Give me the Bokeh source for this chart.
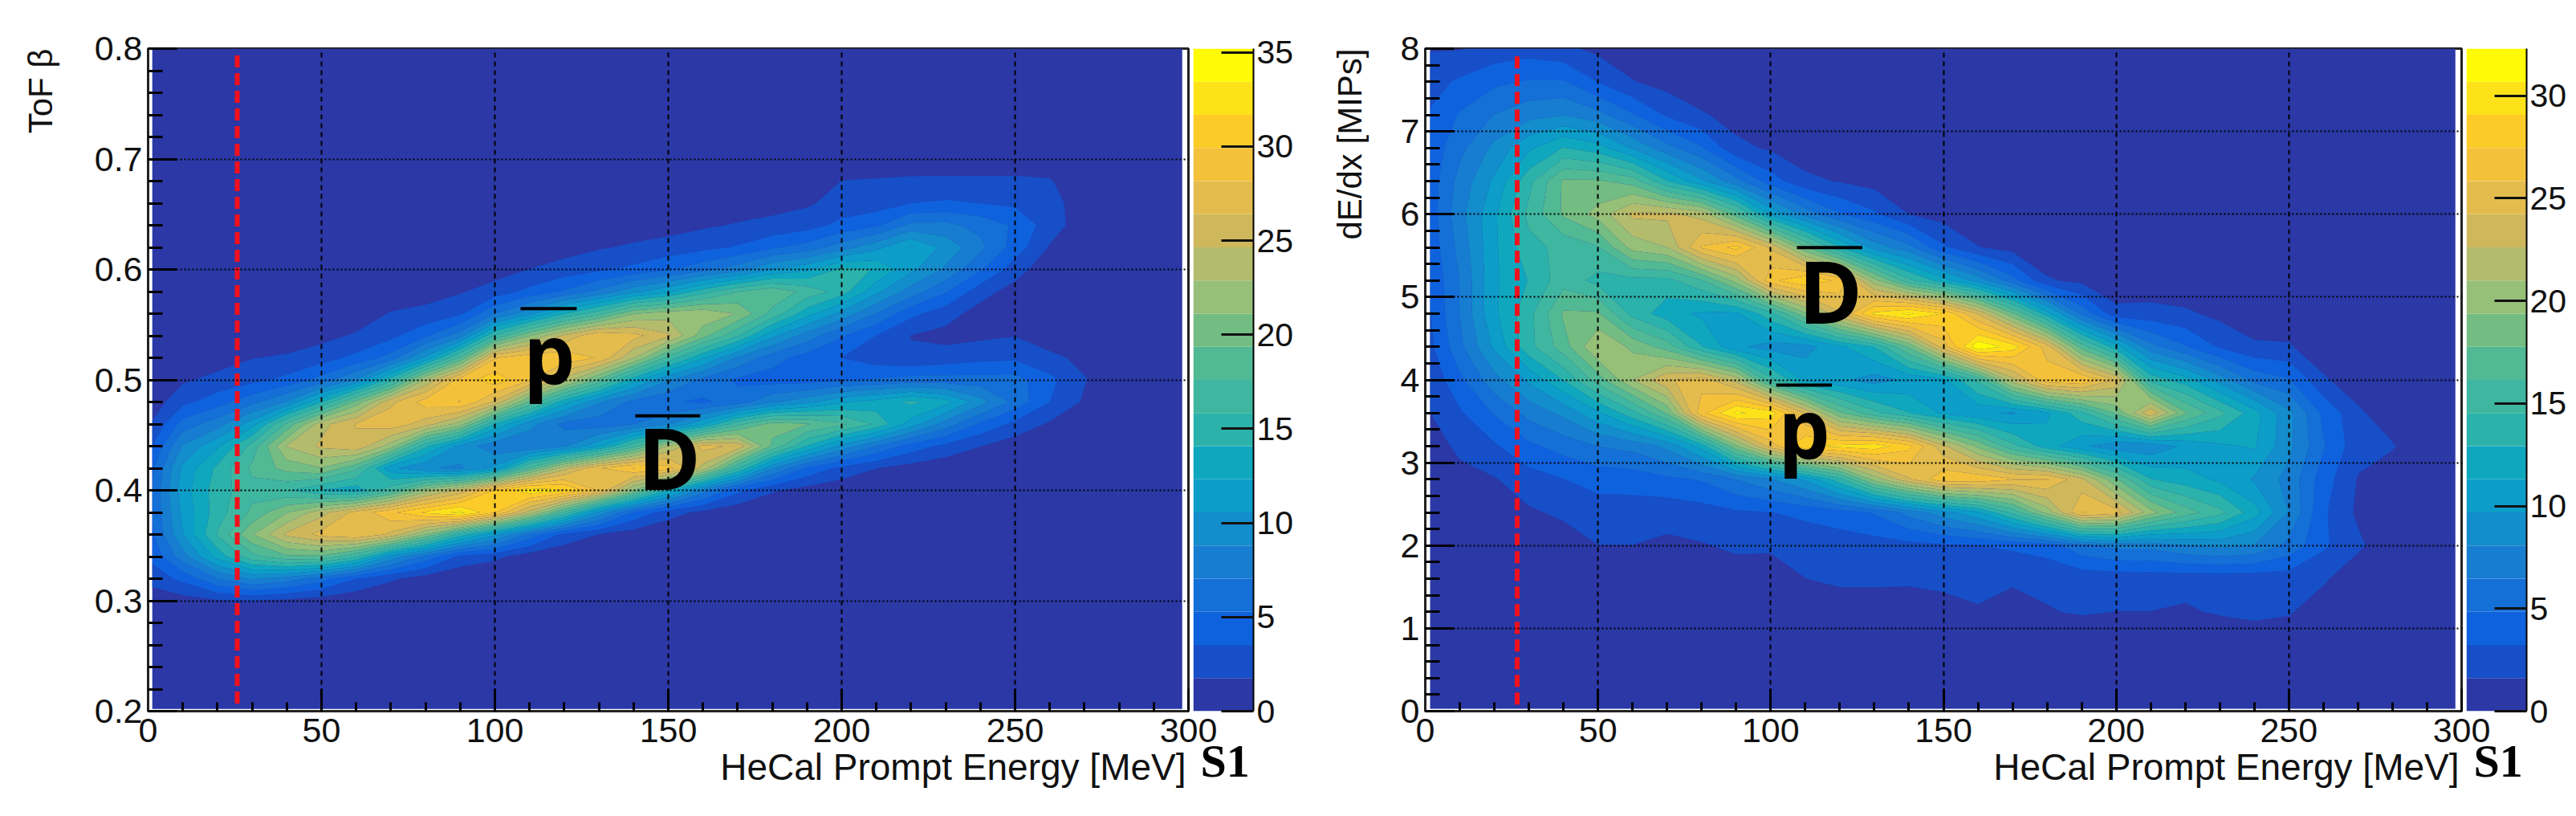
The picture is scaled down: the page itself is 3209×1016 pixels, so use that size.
from bokeh.plotting import figure
from bokeh.layouts import row
from bokeh.models import FixedTicker, Title
from bokeh.core.properties import value
from bokeh.embed import file_html
from bokeh.resources import INLINE
import numpy as np

# ---------- shared ----------
palette = ["#2B38A6", "#164FC7", "#0F62DE", "#146FD7", "#177DD0", "#138DCC", "#0C9DC9",
           "#0FA7BE", "#2BB2AA", "#3FB7A0", "#51B994", "#73BC82", "#96BF78", "#B2BC6C",
           "#CFB75C", "#E3BC4D", "#F4C13A", "#FDCB28", "#FDE21A", "#FFFA05"]
x_major = [0, 50, 100, 150, 200, 250, 300]
x_minor = list(range(0, 301, 10))
x_label = "HeCal Prompt Energy [MeV]"
corner_tag = "S1"

# ---------- left panel: ToF beta ----------
left_x = [1.2, 10, 20, 30, 40, 50, 60, 70, 80, 90, 100, 110, 120, 130, 140, 150, 160, 170,
          180, 190, 200, 210, 220, 230, 240, 250, 260, 270, 280]
left_y = [.30, .32, .34, .36, .38, .40, .42, .44, .46, .48, .50, .52, .54, .56, .58, .60,
          .62, .64, .66, .68, .70]
left_columns = [
    [.5, 2.5, 4, 5, 5.5, 5.5, 5, 3.5, 1.9, .8, .3, 0, 0, 0, 0, 0, 0, 0, 0, 0, 0],
    [1, 4, 8, 10.5, 11, 11.5, 11, 9, 6, 3, 1.5, .5, 0, 0, 0, 0, 0, 0, 0, 0, 0],
    [1.5, 7, 13, 16, 15, 15, 14.5, 12, 8, 4.5, 2.3, .9, .2, 0, 0, 0, 0, 0, 0, 0, 0],
    [1.8, 9, 17, 21, 18, 17, 18, 16.5, 11.5, 6.5, 3, 1.7, .5, 0, 0, 0, 0, 0, 0, 0, 0],
    [1.3, 8, 19, 25, 21, 16, 20, 23, 18, 9, 4, 2, .7, 0, 0, 0, 0, 0, 0, 0, 0],
    [.9, 6, 19, 27, 24, 14, 21, 25, 24, 14, 6, 2.7, 1.2, .3, 0, 0, 0, 0, 0, 0, 0],
    [.4, 3.5, 16, 28, 27, 13, 18, 26, 26.5, 20, 9, 4, 2, .6, 0, 0, 0, 0, 0, 0, 0],
    [.2, 2, 10, 26, 29.5, 17, 11, 22, 27.5, 26, 15, 6, 3, 1.9, .5, 0, 0, 0, 0, 0, 0],
    [0, .9, 6.5, 21, 32, 22, 9, 14.5, 25.5, 29, 23, 11, 5, 2.2, 1.1, .2, 0, 0, 0, 0, 0],
    [0, .3, 3, 15, 34, 25, 8.5, 10, 22, 30, 29, 18, 8, 3.2, 1.6, .5, 0, 0, 0, 0, 0],
    [0, 0, 2.2, 11, 30, 30, 11, 7.5, 14, 26, 31, 28, 16, 7, 2.5, 1, 0, 0, 0, 0, 0],
    [0, 0, .8, 6.5, 24, 33, 18, 7, 9.5, 19, 28.5, 29.5, 21, 10, 4, 1.8, .5, 0, 0, 0, 0],
    [0, 0, .3, 3, 17, 32, 24, 8.5, 6.5, 13, 24, 29.5, 25, 14, 5.5, 2.5, 1, 0, 0, 0, 0],
    [0, 0, 0, 1.7, 10, 28, 28, 12, 6, 9, 19, 28, 28, 17, 7.5, 3.2, 1.6, .4, 0, 0, 0],
    [0, 0, 0, .8, 5, 21, 30, 17, 7, 6.5, 13, 23, 27, 21, 10, 4, 2, .9, 0, 0, 0],
    [0, 0, 0, .3, 2.5, 14, 29, 23, 8.5, 5.5, 9, 17, 25, 22, 12, 5, 2.5, 1, 0, 0, 0],
    [0, 0, 0, 0, 1.3, 8, 24, 27, 12, 5, 6.5, 12.5, 20, 22.5, 15, 6.5, 3, 1.5, .4, 0, 0],
    [0, 0, 0, 0, .5, 4, 16, 26, 17, 6, 5, 8.5, 16, 21, 17.5, 8, 3.7, 1.9, .9, 0, 0],
    [0, 0, 0, 0, 0, 2, 9, 19, 20, 8.5, 4.5, 6, 11, 17, 19, 10.5, 5, 2.2, 1.2, 0, 0],
    [0, 0, 0, 0, 0, 1, 5, 14, 19.5, 10, 4.5, 4.5, 8, 13, 17, 12, 6, 2.8, 1.5, .3, 0],
    [0, 0, 0, 0, 0, .5, 3, 10, 18, 12, 5, 3.5, 5.5, 10, 15, 14.5, 8, 4, 2.5, 1.8, .2],
    [0, 0, 0, 0, 0, 0, 1.8, 7, 15.5, 13, 5.5, 2.5, 3.5, 7, 11, 14, 10, 5, 2.6, 1.9, .8],
    [0, 0, 0, 0, 0, 0, 1, 4.5, 11.5, 14.5, 6, 2, 1.7, 4, 8, 11, 12.5, 7.5, 3.5, 2, .9],
    [0, 0, 0, 0, 0, 0, .5, 3, 8, 13, 6, 2.5, 1.2, 2.5, 5.5, 8.5, 10, 7.5, 3.8, 2, 1],
    [0, 0, 0, 0, 0, 0, 0, 1.8, 5, 9.5, 6, 3, 1.4, 1, 2.5, 5.5, 7.5, 6.5, 3.5, 2, 1],
    [0, 0, 0, 0, 0, 0, 0, .8, 3, 6.5, 6, 3.2, 1.7, .6, 1, 2.6, 4.5, 5, 3.2, 2, 1],
    [0, 0, 0, 0, 0, 0, 0, 0, 1.5, 3.5, 4, 2.3, .5, 0, 0, .5, 1.6, 2.6, 2.3, 1.9, .8],
    [0, 0, 0, 0, 0, 0, 0, 0, 0, 1.5, 1.9, 1.2, 0, 0, 0, 0, 0, .8, 1, .5, 0],
    [0, 0, 0, 0, 0, 0, 0, 0, 0, 0, 0, 0, 0, 0, 0, 0, 0, 0, 0, 0, 0],
]
left_y_major = [.2, .3, .4, .5, .6, .7, .8]
left_y_minor = [.22, .24, .26, .28, .32, .34, .36, .38, .42, .44, .46, .48, .52, .54, .56, .58,
                .62, .64, .66, .68, .72, .74, .76, .78]
left_cbar_max = 35.2
left_cbar_ticks = [0, 5, 10, 15, 20, 25, 30, 35]

# ---------- right panel: dE/dx ----------
right_x = [1.4, 10, 20, 30, 40, 50, 60, 70, 80, 90, 100, 110, 120, 130, 140, 150, 160, 170,
           180, 190, 200, 210, 220, 230, 240, 250, 260, 270, 280, 290]
right_y = [.8, 1.2, 1.6, 2.0, 2.4, 2.8, 3.2, 3.6, 4.0, 4.4, 4.8, 5.2, 5.6, 6.0, 6.4, 6.8, 7.2,
           7.6, 8.0]
right_columns = [
    [0, 0, 0, 0, .3, .6, 1, 1.6, 2, 2.8, 3.2, 3.5, 3.8, 4, 4, 3.8, 3.4, 2.6, 1.5],
    [0, 0, 0, .1, .5, 1.2, 1.9, 3, 4.5, 6, 6.5, 6.5, 7, 7.5, 7, 6, 5, 3.5, 1.5],
    [0, 0, 0, .3, .8, 1.5, 3, 5, 7.5, 10, 11, 11, 11, 11, 10, 8.5, 6.5, 4.5, 2.2],
    [0, 0, .1, .5, 1.4, 2.5, 4.5, 7, 10, 14, 14, 13, 14, 15, 14, 11, 7.5, 5, 2.5],
    [0, .1, .3, .8, 1.9, 3.2, 5.5, 8.5, 13, 17, 18, 15.5, 15, 18, 18, 13, 8, 5, 2],
    [0, .2, .5, 1.6, 2.5, 3.8, 6.5, 11, 17, 21, 18, 14, 16, 20, 18, 12, 7, 3.2, 1.2],
    [0, .1, .4, 1.6, 2.5, 3.9, 7, 14, 21, 19, 14, 14, 20, 23, 17, 9.5, 5, 1.7, .5],
    [0, 0, .3, 1.3, 2.2, 4.5, 8.5, 18, 24, 17, 12, 14, 21, 23, 13, 7, 3, 1, 0],
    [0, 0, .5, 1.5, 2.5, 5, 12, 27, 25, 13, 11, 16, 26, 22, 10, 5, 1.8, .4, 0],
    [0, 0, .8, 1.9, 3, 6.5, 19, 31, 22, 10, 11, 20, 28, 17, 7, 2, 1, 0, 0],
    [0, 0, 1, 1.8, 3.2, 8, 25, 30, 15, 9, 14, 27, 24, 11, 4, 1.4, .2, 0, 0],
    [0, 0, 1.6, 2.2, 3.6, 10, 29, 24, 11, 9, 19, 29, 18, 7.5, 2, .7, 0, 0, 0],
    [0, .5, 2, 2.3, 4.2, 14, 29.5, 18, 10, 11, 24, 27, 13, 5, 1.5, .3, 0, 0, 0],
    [0, .8, 1.9, 2.5, 5, 20, 30, 15, 9, 13, 29.5, 20, 9, 3.5, 1, 0, 0, 0, 0],
    [0, 1, 1.8, 2.7, 7, 24, 28, 13, 10, 18, 31, 15, 7, 1.6, .2, 0, 0, 0, 0],
    [0, 1.2, 1.9, 3, 9, 27, 23, 11, 11, 25, 29, 12, 3.5, .9, 0, 0, 0, 0, 0],
    [0, 1.5, 2, 3.2, 11, 27, 19, 10, 15, 32, 24, 9, 1.7, .2, 0, 0, 0, 0, 0],
    [0, .8, 1.9, 3.5, 15, 26, 15, 9.5, 22, 30, 18, 5.5, 1, 0, 0, 0, 0, 0, 0],
    [0, 1.5, 2, 4, 20, 26, 12, 11, 27, 25, 12, 1.8, .4, 0, 0, 0, 0, 0, 0],
    [0, 1.8, 2.2, 6, 26, 23, 10, 14, 27.5, 17, 6, 1.2, 0, 0, 0, 0, 0, 0, 0],
    [0, 1.6, 2.2, 7, 25, 18, 8.5, 18, 24, 12, 2.2, .3, 0, 0, 0, 0, 0, 0, 0],
    [0, 1.6, 2.3, 7, 20, 13, 8.5, 24, 14, 7, 2.2, .5, 0, 0, 0, 0, 0, 0, 0],
    [0, 1.4, 2.2, 8, 17, 12, 10, 18, 12, 5, 1.9, .3, 0, 0, 0, 0, 0, 0, 0],
    [.1, 1.8, 2.2, 8.5, 15, 11, 11, 15, 9, 3, 1.2, 0, 0, 0, 0, 0, 0, 0, 0],
    [.6, 2, 2.2, 8, 12, 9.5, 11.5, 12, 6, 1.9, .5, 0, 0, 0, 0, 0, 0, 0, 0],
    [.3, 1.8, 2.3, 6, 8, 7.5, 8.5, 8.5, 5, 1.8, .5, 0, 0, 0, 0, 0, 0, 0, 0],
    [0, .5, 1.9, 3.5, 3.5, 4, 5, 4.5, 1.9, .4, 0, 0, 0, 0, 0, 0, 0, 0, 0],
    [0, 0, .3, 2, 1.3, 1.5, 2.2, 2, .4, 0, 0, 0, 0, 0, 0, 0, 0, 0, 0],
    [0, 0, 0, .2, 0, .3, 1.8, .3, 0, 0, 0, 0, 0, 0, 0, 0, 0, 0, 0],
    [0, 0, 0, 0, 0, 0, 0, 0, 0, 0, 0, 0, 0, 0, 0, 0, 0, 0, 0],
]
right_y_major = [0, 1, 2, 3, 4, 5, 6, 7, 8]
right_y_minor = [.2, .4, .6, .8, 1.2, 1.4, 1.6, 1.8, 2.2, 2.4, 2.6, 2.8, 3.2, 3.4, 3.6, 3.8,
                 4.2, 4.4, 4.6, 4.8, 5.2, 5.4, 5.6, 5.8, 6.2, 6.4, 6.6, 6.8, 7.2, 7.4, 7.6, 7.8]
right_cbar_max = 32.3
right_cbar_ticks = [0, 5, 10, 15, 20, 25, 30]

OVERHANG = 60
UNDERHANG = 40


def panel(width, border_left, border_right, border_top, frame_h, y_start, y_end, xs, ys, columns,
          y_major, y_minor, y_label, y_standoff, cut_x, cut_y, base, cbar_max, anno):
    p = figure(width=width + OVERHANG + UNDERHANG, height=border_top + frame_h + 123,
               x_range=(0, 300), y_range=(y_start, y_end), toolbar_location=None,
               output_backend="svg",
               min_border_left=border_left + UNDERHANG, min_border_right=border_right + OVERHANG,
               min_border_top=border_top, min_border_bottom=123,
               background_fill_color="white", border_fill_color=None,
               outline_line_color="#222222", outline_line_width=3,
               margin=(0, -OVERHANG, 0, -UNDERHANG))
    p.quad(left=base[0], right=base[1], bottom=base[2], top=y_end, fill_color=palette[0],
           line_color=None)
    step = cbar_max / len(palette)
    levels = [step * i for i in range(1, len(palette) + 1)]
    p.contour(xs, ys, np.array(columns).T, levels=levels, fill_color=palette[1:], line_color=None)

    ax = p.xaxis[0]
    ax.ticker = FixedTicker(ticks=x_major, minor_ticks=x_minor)
    ax.major_label_text_font = "Liberation Sans"
    ax.major_label_text_font_size = "43px"
    ax.major_label_text_color = "#111111"
    ax.major_label_standoff = 9
    ax.major_tick_in = 28
    ax.major_tick_out = 0
    ax.minor_tick_in = 11
    ax.minor_tick_out = 0
    ay = p.yaxis[0]
    ay.ticker = FixedTicker(ticks=y_major, minor_ticks=y_minor)
    ay.major_label_text_font = "Liberation Sans"
    ay.major_label_text_font_size = "43px"
    ay.major_label_text_color = "#111111"
    ay.major_label_standoff = 7
    ay.major_label_orientation = "horizontal"
    ay.major_tick_in = 36
    ay.major_tick_out = 0
    ay.minor_tick_in = 18
    ay.minor_tick_out = 0
    for a in (ax, ay):
        a.axis_line_color = "#222222"
        a.axis_line_width = 3
        a.major_tick_line_color = "black"
        a.major_tick_line_width = 3
        a.minor_tick_line_color = "black"
        a.minor_tick_line_width = 3
    p.add_layout(Title(text=x_label, align="right", offset=3, standoff=0,
                       text_font="Liberation Sans", text_font_size="46px",
                       text_font_style="normal", text_color="#111111"), "below")
    p.add_layout(Title(text=y_label, align="right", offset=0, standoff=y_standoff,
                       text_font="Liberation Sans", text_font_size="42px",
                       text_font_style="normal", text_color="#111111"), "left")

    g = p.xgrid[0]
    g.ticker = FixedTicker(ticks=x_major[1:-1])
    g.grid_line_color = "black"
    g.grid_line_dash = "6 5"
    g.grid_line_width = 2
    g.level = "overlay"
    g = p.ygrid[0]
    g.ticker = FixedTicker(ticks=y_major[1:-1])
    g.grid_line_color = "black"
    g.grid_line_dash = "2 3"
    g.grid_line_width = 2
    g.level = "overlay"

    p.segment(x0=[cut_x], y0=[cut_y[0]], x1=[cut_x], y1=[cut_y[1]], line_color="#F2101C",
              line_width=6, line_dash="15 7", level="overlay")
    for letter, lx, ly, bar0, bar1, bar_y, size in anno:
        p.text(x=[lx], y=[ly], text=[letter], text_font=value("Open Sans"),
               text_font_style="bold", text_font_size=size, text_color="black",
               text_align="center", text_baseline="alphabetic", level="overlay")
        p.segment(x0=[bar0], y0=[bar_y], x1=[bar1], y1=[bar_y], line_color="black",
                  line_width=4, level="overlay")
    return p


def cbar(width, border_top, frame_h, cbar_max, ticks):
    step = cbar_max / len(palette)
    c = figure(width=width, height=border_top + frame_h + 123, x_range=(0, 1),
               y_range=(0, cbar_max), toolbar_location=None, output_backend="svg",
               x_axis_location=None, y_axis_location="right",
               min_border_left=0, min_border_right=width - 75,
               min_border_top=border_top, min_border_bottom=123,
               background_fill_color=None, border_fill_color=None, outline_line_color=None)
    c.grid.visible = False
    c.quad(left=0, right=1, bottom=[step * i for i in range(len(palette))],
           top=[step * (i + 1) for i in range(len(palette))], fill_color=palette, line_color=None)
    a = c.yaxis[0]
    a.ticker = FixedTicker(ticks=ticks)
    a.major_tick_in = 40
    a.major_tick_out = 0
    a.minor_tick_line_color = None
    a.axis_line_color = "black"
    a.axis_line_width = 2
    a.major_tick_line_color = "#111111"
    a.major_tick_line_width = 3
    a.major_label_text_font = "Liberation Sans"
    a.major_label_text_font_size = "41px"
    a.major_label_text_color = "#111111"
    a.major_label_standoff = 4
    c.add_layout(Title(text=corner_tag, align="left", offset=9, standoff=54,
                       text_font="Liberation Serif", text_font_size="58px",
                       text_font_style="bold", text_color="black"), "below")
    return c


left_anno = [("p", 115.7, .5254, 107.4, 123.6, .5645, "102px"),
             ("D", 150.3, .4299, 140.5, 159.2, .4674, "106px")]
right_anno = [("D", 117.3, 5.083, 107.6, 126.5, 5.597, "108px"),
              ("p", 109.7, 3.434, 101.6, 117.7, 3.938, "102px")]

p1 = panel(1486, 184, 6, 57, 828, .2, .8, left_x, left_y, left_columns, left_y_major, left_y_minor,
           "ToF \u03b2", 81, 25.7, (.207, .795), (1.2, 298.2, .202), left_cbar_max, left_anno)
c1 = cbar(154, 56, 829, left_cbar_max, left_cbar_ticks)
p2 = panel(1432, 135, 6, 60, 825, 0, 8, right_x, right_y, right_columns, right_y_major, right_y_minor,
           "dE/dx [MIPs]", 74, 26.6, (.08, 7.93), (1.4, 298.2, .03), right_cbar_max, right_anno)
c2 = cbar(137, 59, 826, right_cbar_max, right_cbar_ticks)

layout = row(p1, c1, p2, c2, spacing=0)
open("out.html", "w").write(file_html(layout, INLINE))
